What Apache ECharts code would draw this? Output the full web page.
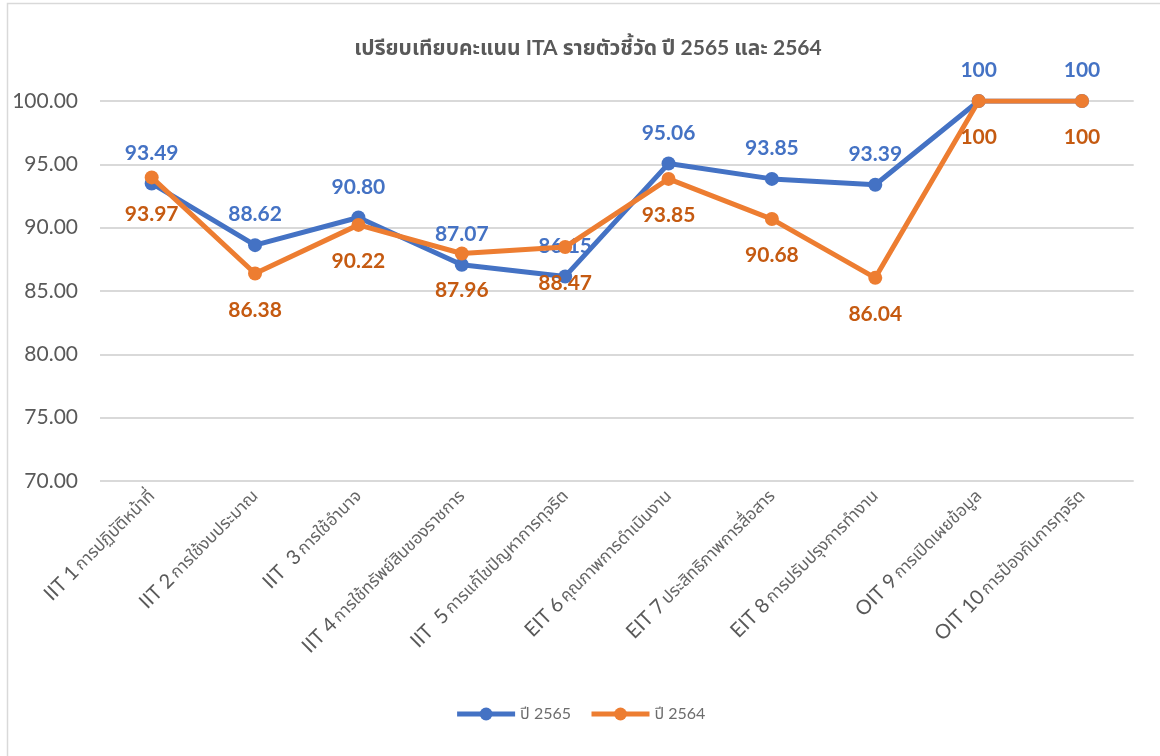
<!DOCTYPE html>
<html><head><meta charset="utf-8">
<script src="https://cdn.jsdelivr.net/npm/echarts@6/dist/echarts.min.js"></script>
<style>html,body{margin:0;padding:0;background:#fff}#c{width:1160px;height:756px}</style>
</head><body><div id="c"></div>
<script>
const codes = ['IIT 1','IIT 2','IIT  3','IIT 4','IIT  5','EIT 6','EIT 7','EIT 8','OIT 9','OIT 10'];
const names = ['การปฏิบัติหน้าที่','การใช้งบประมาณ','การใช้อำนาจ','การใช้ทรัพย์สินของราชการ','การแก้ไขปัญหาการทุจริต','คุณภาพการดำเนินงาน','ประสิทธิภาพการสื่อสาร','การปรับปรุงการทำงาน','การเปิดเผยข้อมูล','การป้องกันการทุจริต'];
const categories = codes.map((c,i)=>c+' '+names[i]);
const y2565 = [93.49, 88.62, 90.80, 87.07, 86.15, 95.06, 93.85, 93.39, 100, 100];
const y2564 = [93.97, 86.38, 90.22, 87.96, 88.47, 93.85, 90.68, 86.04, 100, 100];
const yTicks = {min:70, max:100, interval:5};

const FONT = 'Lato, "Noto Sans", "Noto Sans Thai", "DejaVu Sans", sans-serif';
const fmt = v => (v === 100 ? '100' : v.toFixed(2));
const chart = echarts.init(document.getElementById('c'), null, {renderer:'canvas'});
chart.setOption({
  animation:false,
  textStyle:{fontFamily:FONT},
  graphic:[{type:'rect', shape:{x:7.5,y:3.5,width:1200,height:800}, style:{fill:'none', stroke:'#d9d9d9', lineWidth:1.5}, silent:true}],
  title:{text:'เปรียบเทียบคะแนน ITA รายตัวชี้วัด ปี 2565 และ 2564', left:583, textAlign:'center', top:33,
    textStyle:{fontSize:21, fontWeight:'bold', color:'#595959', fontFamily:FONT}},
  legend:{bottom:29, left:'center', itemWidth:58, itemHeight:16, itemGap:18,
    lineStyle:{width:5},
    textStyle:{fontSize:16, color:'#6d6d6d', fontFamily:FONT},
    data:['ปี 2565','ปี 2564']},
  grid:{left:100, right:26.3, top:101, bottom:275, containLabel:false, outerBoundsMode:'none'},
  xAxis:{type:'category', data:categories, boundaryGap:true,
    axisLine:{show:false}, axisTick:{show:false},
    axisLabel:{interval:0, rotate:45, margin:12, color:'#595959',
      formatter:(v,i)=>'{a|'+codes[i]+'} {b|'+names[i]+'}',
      rich:{a:{fontSize:20, color:'#595959', fontFamily:FONT}, b:{fontSize:17, color:'#666666', fontFamily:FONT}}}},
  yAxis:{type:'value', min:yTicks.min, max:yTicks.max, interval:yTicks.interval,
    axisLine:{show:false}, axisTick:{show:false},
    splitLine:{lineStyle:{color:'#d9d9d9', width:2}},
    axisLabel:{fontSize:21, color:'#595959', margin:22, formatter:v=>v.toFixed(2), fontFamily:FONT}},
  series:[
    {name:'ปี 2565', type:'line', data:y2565, symbol:'circle', symbolSize:14, z:3,
      lineStyle:{width:5, color:'#4472C4'}, itemStyle:{color:'#4472C4'},
      label:{show:true, position:'top', distance:13, fontSize:21, fontWeight:'bold', color:'#4472C4', fontFamily:FONT, formatter:p=>fmt(p.value)}},
    {name:'ปี 2564', type:'line', data:y2564, symbol:'circle', symbolSize:14, z:4,
      lineStyle:{width:5, color:'#ED7D31'}, itemStyle:{color:'#ED7D31'},
      label:{show:true, position:'bottom', distance:19, fontSize:21, fontWeight:'bold', color:'#C55A11', fontFamily:FONT, formatter:p=>fmt(p.value)}}
  ]
});
</script></body></html>
